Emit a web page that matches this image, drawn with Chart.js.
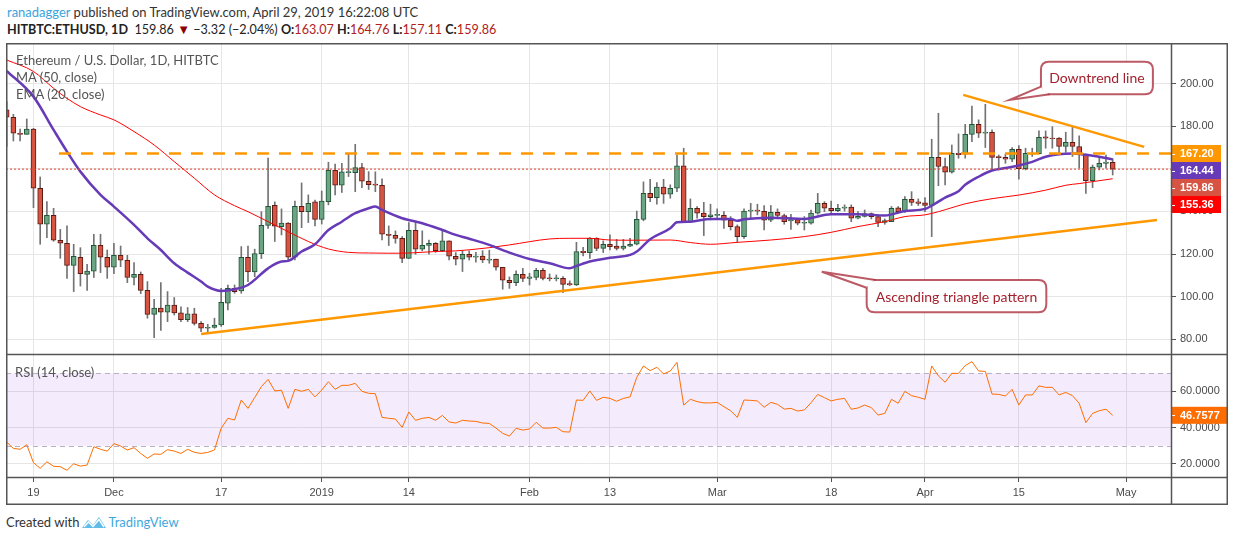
<!DOCTYPE html>
<html>
<head>
<meta charset="utf-8">
<title>Ethereum / U.S. Dollar, 1D</title>
<script src="https://cdn.jsdelivr.net/npm/chart.js@4.4.1/dist/chart.umd.min.js"></script>
<style>
  body { margin: 0; width: 1234px; height: 541px; background: #fff; position: relative; overflow: hidden; font-family: Lato, "Liberation Sans", sans-serif; }
  .txt { position: absolute; white-space: nowrap; line-height: 17px; z-index: 2; }
  #line1 { left: 7px; top: 4px; font-size: 13px; color: #333; }
  #line1 .user { color: #3aa3de; }
  #line2 { left: 7px; top: 21px; font-size: 12.6px; color: #222; }
  #line2 .red { color: #b2201c; }
  #line2 .tri { color: #8b0000; font-size: 13px; }
  #wrap { position: absolute; left: 6px; top: 43px; width: 1222px; height: 462px; z-index: 1; }
  .leg { left: 16px; font-size: 13px; color: #555; }
  #footer { left: 6px; top: 514px; font-size: 13px; color: #333; }
  #footer svg { vertical-align: -2px; margin: 0 1px 0 2px; }
  #footer .tv { color: #3fa7dd; }
</style>
</head>
<body>
<div id="line1" class="txt"><span class="user">ranadagger</span> published on TradingView.com, April 29, 2019 16:22:08 UTC</div>
<div id="line2" class="txt"><b>HITBTC:ETHUSD, 1D</b>&nbsp; 159.86 <span class="tri">&#9660;</span> &minus;3.32 (&minus;2.04%) <b>O:</b><span class="red">163.07</span> <b>H:</b><span class="red">164.76</span> <b>L:</b><span class="red">157.11</span> <b>C:</b><span class="red">159.86</span></div>
<div class="txt leg" style="top:52px">Ethereum / U.S. Dollar, 1D, HITBTC</div>
<div class="txt leg" style="top:69px">MA (50, close)</div>
<div class="txt leg" style="top:86px">EMA (20, close)</div>
<div class="txt leg" style="top:364px;left:15px;font-size:13px">RSI (14, close)</div>
<div id="wrap"><canvas id="chart" width="1222" height="462"></canvas></div>
<div id="footer" class="txt">Created with<svg width="26" height="14" viewBox="0 0 26 14"><path d="M1 13 L7 5 L12 10 L18 2 L25 13 Z" fill="#62bce8"/><path d="M3 12 L7.5 7 L12 11.5 L18 4.5 L23 12" fill="none" stroke="#fff" stroke-width="1.4"/></svg><span class="tv">TradingView</span></div>

<script>
// first candle of the series
const firstDay = "2018-11-15";

const opens = [
  187.7, 184.2, 176.7, 176.2, 178.7, 150.9, 134.0, 138.2, 126.5, 125.1,
  114.7, 118.5, 110.5, 112.0, 124.1, 118.5, 113.8, 119.4, 117.1, 109.0,
  110.5, 103.0, 91.7, 94.6, 92.7, 96.1, 92.4, 89.2, 92.0, 87.5,
  85.2, 85.6, 86.7, 96.9, 103.9, 102.7, 118.5, 111.6, 120.2, 133.5,
  142.9, 132.9, 134.5, 118.5, 142.4, 139.9, 144.5, 136.3, 144.6, 159.3,
  152.3, 158.2, 158.2, 160.6, 154.2, 152.9, 152.3, 129.3, 128.8, 127.4,
  118.0, 131.2, 122.3, 124.1, 125.1, 121.6, 126.2, 119.0, 117.6, 119.9,
  118.5, 119.1, 117.1, 117.6, 113.8, 107.7, 106.6, 110.5, 108.6, 109.0,
  112.4, 108.8, 108.5, 108.6, 106.1, 105.5, 121.3, 120.7, 127.4, 122.7,
  124.6, 123.8, 122.7, 123.7, 124.6, 136.3, 148.5, 146.5, 151.4, 148.1,
  150.9, 161.4, 135.2, 141.5, 139.2, 137.6, 138.1, 138.2, 135.9, 132.9,
  128.2, 140.1, 140.7, 140.1, 135.9, 139.6, 138.1, 135.6, 136.2, 134.5,
  134.5, 139.2, 143.8, 141.5, 140.4, 141.5, 142.1, 136.8, 137.7, 139.0,
  137.6, 134.9, 135.2, 141.7, 139.9, 145.7, 144.5, 144.0, 142.8, 165.4,
  161.1, 158.4, 167.3, 166.9, 176.2, 180.9, 176.7, 177.2, 165.8, 165.4,
  164.5, 169.2, 160.1, 166.9, 167.0, 175.0, 174.5, 174.4, 170.5, 172.5,
  170.5, 166.9, 154.5, 160.8, 162.6, 163.07
];
const highs = [
  191.6, 185.6, 178.7, 183.4, 179.0, 156.2, 144.6, 141.5, 131.6, 133.2,
  124.6, 123.0, 115.2, 129.3, 129.3, 121.9, 125.1, 123.8, 119.4, 116.0,
  111.6, 107.1, 98.8, 106.6, 102.4, 99.6, 95.2, 94.9, 94.6, 88.3,
  87.0, 89.9, 103.9, 105.5, 105.5, 123.5, 123.8, 122.3, 139.9, 165.0,
  144.5, 141.2, 134.8, 144.9, 153.4, 147.8, 145.3, 149.6, 163.1, 162.2,
  162.6, 167.0, 171.5, 162.6, 158.7, 158.6, 155.3, 133.2, 130.9, 128.2,
  134.8, 134.8, 130.9, 126.6, 125.4, 131.0, 126.2, 120.7, 121.5, 121.5,
  120.8, 121.6, 121.8, 117.6, 113.8, 109.3, 112.1, 113.3, 111.0, 113.3,
  113.3, 110.7, 110.2, 109.4, 107.4, 125.5, 123.2, 127.7, 127.7, 126.2,
  129.0, 126.9, 126.9, 127.4, 140.2, 153.9, 155.1, 153.6, 155.1, 152.5,
  166.5, 169.7, 145.9, 142.3, 144.3, 143.4, 141.2, 139.9, 137.6, 133.7,
  141.2, 143.8, 143.4, 142.8, 142.8, 141.2, 138.8, 138.7, 136.8, 137.6,
  140.7, 148.5, 144.6, 144.9, 143.4, 143.1, 143.1, 139.9, 140.7, 139.3,
  138.4, 136.5, 142.3, 142.3, 147.0, 149.3, 145.9, 146.5, 173.9, 186.1,
  165.0, 171.2, 176.4, 180.9, 189.5, 183.0, 190.3, 178.3, 166.5, 166.9,
  170.0, 170.9, 169.7, 169.7, 177.8, 177.8, 179.8, 174.7, 177.2, 179.8,
  175.5, 166.9, 161.8, 165.8, 166.5, 164.76
];
const lows = [
  170.5, 173.1, 173.1, 176.2, 141.8, 124.6, 127.7, 126.0, 118.0, 108.6,
  102.4, 105.0, 103.0, 109.0, 111.3, 108.6, 110.8, 114.1, 106.6, 105.5,
  101.4, 89.9, 80.8, 84.2, 88.3, 91.4, 88.3, 88.3, 86.7, 83.6,
  83.6, 85.2, 86.0, 93.8, 101.6, 101.6, 107.1, 109.4, 117.9, 132.1,
  125.9, 129.0, 116.8, 117.2, 132.4, 134.8, 133.2, 134.1, 143.1, 147.8,
  148.9, 156.4, 149.3, 151.2, 150.3, 149.3, 126.6, 124.0, 125.1, 116.0,
  118.0, 119.9, 121.5, 119.9, 120.8, 121.2, 117.2, 114.9, 111.8, 117.2,
  116.2, 116.0, 115.7, 112.4, 103.5, 103.9, 105.2, 107.1, 105.5, 107.9,
  107.9, 107.4, 107.4, 101.9, 105.2, 105.2, 119.1, 118.0, 121.6, 120.7,
  121.9, 121.9, 121.9, 123.5, 124.3, 135.6, 144.6, 143.4, 143.8, 146.2,
  149.3, 135.2, 135.2, 136.8, 128.7, 136.0, 136.8, 132.1, 131.3, 125.5,
  127.4, 136.8, 138.4, 131.3, 135.2, 136.8, 134.0, 131.6, 133.7, 131.3,
  134.0, 138.7, 139.9, 138.7, 139.9, 140.2, 135.2, 136.5, 137.4, 136.5,
  132.9, 134.0, 135.2, 139.2, 139.6, 142.8, 142.8, 139.9, 128.2, 152.1,
  152.5, 158.0, 165.0, 165.0, 172.8, 174.7, 170.0, 159.5, 159.5, 162.6,
  163.4, 155.1, 159.5, 165.8, 167.0, 169.7, 169.7, 167.3, 167.8, 165.8,
  160.3, 148.5, 151.2, 159.5, 160.3, 157.11
];
const closes = [
  184.2, 176.7, 176.2, 178.7, 150.9, 134.0, 138.2, 126.5, 125.1, 114.7,
  119.0, 110.8, 112.0, 124.1, 118.5, 113.8, 119.4, 117.1, 109.0, 110.5,
  103.0, 91.7, 94.6, 92.7, 96.1, 92.4, 89.2, 92.0, 87.5, 85.2,
  85.6, 86.7, 97.4, 103.9, 102.4, 118.5, 111.6, 120.2, 133.5, 142.4,
  133.1, 134.5, 118.5, 142.4, 139.9, 143.8, 136.3, 144.9, 159.3, 152.3,
  158.6, 158.7, 160.6, 154.2, 152.6, 152.3, 129.3, 128.8, 127.3, 118.0,
  131.2, 122.3, 124.1, 125.1, 121.6, 126.2, 119.0, 117.6, 119.9, 118.5,
  119.1, 117.2, 117.7, 113.8, 107.7, 106.6, 110.5, 108.6, 109.3, 112.4,
  108.6, 108.5, 108.8, 105.8, 105.5, 121.2, 120.7, 127.4, 122.7, 124.6,
  123.5, 122.7, 123.8, 124.6, 136.3, 148.5, 146.5, 151.4, 148.1, 150.9,
  161.4, 135.2, 141.5, 139.2, 137.6, 138.4, 138.7, 135.9, 132.9, 128.2,
  140.2, 140.7, 140.1, 135.9, 139.6, 138.1, 135.2, 136.2, 134.5, 134.9,
  139.2, 143.8, 141.5, 140.4, 141.5, 142.1, 136.8, 137.7, 139.0, 137.6,
  134.9, 135.7, 141.5, 139.9, 145.7, 144.2, 143.8, 142.8, 165.4, 161.1,
  158.4, 167.3, 166.7, 176.2, 180.9, 176.7, 177.3, 165.4, 165.3, 164.5,
  169.2, 160.1, 167.3, 167.3, 174.8, 174.4, 174.2, 170.5, 172.5, 170.5,
  166.9, 154.5, 160.8, 162.6, 163.2, 159.86
];
const rsi = [
  32.0, 28.5, 28.0, 30.5, 20.6, 17.5, 21.1, 18.6, 18.4, 16.4,
  20.0, 18.7, 19.3, 29.4, 28.0, 27.0, 31.1, 29.8, 27.6, 28.9,
  25.7, 23.0, 25.4, 25.2, 27.8, 27.0, 25.7, 28.0, 26.3, 25.7,
  26.3, 27.6, 39.6, 45.1, 44.2, 55.2, 50.6, 56.5, 62.6, 66.6,
  60.2, 60.6, 50.6, 61.1, 60.0, 61.1, 56.9, 60.7, 65.3, 61.1,
  63.3, 63.3, 64.4, 60.0, 58.9, 58.7, 45.6, 45.1, 44.7, 40.1,
  48.6, 44.0, 45.1, 45.6, 44.0, 46.7, 43.1, 42.5, 44.0, 43.6,
  43.4, 42.5, 42.3, 39.7, 36.8, 35.3, 39.6, 38.6, 39.2, 42.9,
  39.7, 39.7, 40.1, 37.7, 37.5, 55.2, 55.0, 60.2, 55.0, 56.7,
  56.1, 54.5, 56.1, 56.9, 67.7, 74.0, 71.4, 73.3, 69.6, 71.2,
  76.0, 52.4, 55.6, 54.3, 53.6, 53.6, 53.9, 51.5, 49.3, 45.6,
  55.2, 55.0, 54.7, 51.2, 53.9, 52.8, 50.2, 50.6, 49.1, 49.7,
  53.7, 58.3, 56.5, 54.7, 55.6, 56.1, 50.1, 50.8, 52.4, 51.0,
  46.9, 47.8, 55.6, 53.4, 60.0, 57.6, 56.7, 55.6, 74.0, 68.5,
  65.0, 69.9, 69.9, 74.2, 76.4, 71.2, 71.0, 58.5, 58.3, 57.4,
  61.1, 52.4, 58.0, 58.0, 63.0, 62.2, 62.2, 58.0, 59.4, 57.6,
  53.4, 42.7, 47.8, 49.3, 50.1, 46.7577
];

// EMA(20) and MA(50) (day number counted from firstDay)
const emaDays = [0, 4, 7, 9, 11, 14, 16, 19, 21, 23, 25, 27, 29, 30, 32, 34, 36, 39, 41, 42,
  44, 46, 48, 50, 52, 54, 55, 56, 59, 62, 65, 67, 69, 72, 75, 78, 81, 84, 85, 87,
  90, 93, 94, 96, 99, 100, 102, 105, 108, 109, 110, 114, 119, 123, 127, 131, 134, 137, 139, 140,
  142, 143, 145, 147, 149, 151, 153, 155, 157, 159, 161, 163, 165];
const emaVals = [206.0, 193.9, 178.3, 168.1, 158.7, 147.8, 142.3, 133.7, 127.4, 121.9,
  115.7, 111.3, 107.1, 104.7, 102.7, 103.5, 105.5, 113.3, 116.5, 116.8,
  121.2, 124.6, 131.3, 135.2, 139.2, 141.5, 142.3, 140.7, 136.8, 134.5,
  131.3, 129.0, 127.2, 124.3, 120.7, 117.7, 115.7, 113.3, 114.4, 116.5,
  118.3, 119.6, 121.2, 127.0, 132.1, 134.9, 135.2, 136.5, 136.5, 135.6,
  136.3, 137.1, 136.5, 138.7, 138.7, 138.1, 140.2, 141.2, 144.6, 146.5,
  149.5, 152.5, 156.3, 159.2, 160.4, 161.6, 163.3, 165.7, 166.9, 167.2,
  166.6, 165.7, 164.44];
const maDays = [0, 4, 7, 9, 11, 14, 16, 19, 22, 25, 28, 31, 34, 36, 39, 42, 45, 48, 51, 54,
  57, 60, 64, 67, 69, 72, 75, 81, 84, 87, 90, 93, 99, 102, 105, 109, 114, 119, 123, 127,
  131, 134, 137, 139, 140, 143, 147, 151, 155, 158, 160, 162, 165];
const maVals = [211.1, 205.7, 197.8, 193.1, 189.2, 185.3, 183.0, 177.5, 171.2, 163.4,
  155.6, 147.8, 142.7, 139.9, 135.2, 130.5, 125.9, 122.4, 120.8, 120.5,
  120.4, 120.5, 121.2, 121.5, 122.0, 123.0, 124.3, 127.1, 127.4, 127.4,
  126.6, 126.5, 126.6, 125.4, 124.6, 125.5, 126.6, 128.2, 130.2, 132.9,
  135.2, 137.6, 138.4, 139.9, 140.8, 143.6, 146.0, 147.7, 150.0, 152.3,
  153.1, 154.0, 155.36];

const tickDates = ["2018-11-19", "2018-12-01", "2018-12-17", "2019-01-01", "2019-01-14", "2019-02-01",
  "2019-02-13", "2019-03-01", "2019-03-18", "2019-04-01", "2019-04-15", "2019-05-01"];
const tickLabels = ["19", "Dec", "17", "2019", "14", "Feb", "13", "Mar", "18", "Apr", "15", "May"];
const priceTicks = [80, 100, 120, 140, 160, 180, 200];
const rsiTicks = [20, 40, 60];
const rsiBands = [30, 70];

// drawn lines: resistance level, rising support, falling resistance
const levelPrice = 167.2;
const levelFrom = 7.8;
const supportLine = [[29.0, 82.5], [171.6, 136.0]];
const downLine = [[142.7, 194.7], [169.7, 170.3]];

const dayMs = 86400000;
const dayOf = (d) => Math.round((Date.parse(d) - Date.parse(firstDay)) / dayMs);
const tickDays = tickDates.map(dayOf);

const xMin = -0.1;
const xMax = 173.7;

const upFill = "#6ba583", downFill = "#d75442";
const upEdge = "#225437", downEdge = "#5b1a13";

const bodies = opens.map((o, i) => ({ x: i, y: [o, closes[i]] }));
const wicks = lows.map((l, i) => ({ x: i, y: [l, highs[i]] }));
const isUp = opens.map((o, i) => closes[i] >= o);

const callouts = [
  { text: "Downtrend line", box: [154.3, 171.0, 210.3, 195.0], tip: [149.6, 192.3], base: [[154.3, 198.6], [155.6, 195.0]] },
  { text: "Ascending triangle pattern", box: [128.3, 155.1, 107.8, 92.7], tip: [121.6, 111.7], base: [[128.3, 104.2], [129.6, 107.8]] }
];

function roundRect(ctx, x, y, w, h, r) {
  ctx.beginPath();
  ctx.moveTo(x + r, y);
  ctx.lineTo(x + w - r, y);
  ctx.quadraticCurveTo(x + w, y, x + w, y + r);
  ctx.lineTo(x + w, y + h - r);
  ctx.quadraticCurveTo(x + w, y + h, x + w - r, y + h);
  ctx.lineTo(x + r, y + h);
  ctx.quadraticCurveTo(x, y + h, x, y + h - r);
  ctx.lineTo(x, y + r);
  ctx.quadraticCurveTo(x, y, x + r, y);
  ctx.closePath();
}

// purple band between 30 and 70 on the RSI pane
const rsiBand = {
  id: "rsiBand",
  beforeDatasetsDraw(chart) {
    const { ctx, chartArea } = chart;
    const r = chart.scales.rsi;
    const yTop = r.getPixelForValue(rsiBands[1]);
    const yBot = r.getPixelForValue(rsiBands[0]);
    ctx.save();
    ctx.fillStyle = "rgba(150, 60, 230, 0.1)";
    ctx.fillRect(chartArea.left, yTop, chartArea.right - chartArea.left, yBot - yTop);
    ctx.strokeStyle = "#b9afc2";
    ctx.lineWidth = 1;
    ctx.setLineDash([5, 4]);
    [yTop, yBot].forEach((y) => {
      ctx.beginPath();
      ctx.moveTo(chartArea.left, Math.round(y) + 0.5);
      ctx.lineTo(chartArea.right, Math.round(y) + 0.5);
      ctx.stroke();
    });
    ctx.restore();
  }
};

const notes = {
  id: "notes",
  afterDatasetsDraw(chart) {
    const { ctx } = chart;
    const xs = chart.scales.x, ys = chart.scales.y;
    ctx.save();
    callouts.forEach((c) => {
      const x1 = xs.getPixelForValue(c.box[0]), x2 = xs.getPixelForValue(c.box[1]);
      const y1 = ys.getPixelForValue(c.box[2]), y2 = ys.getPixelForValue(c.box[3]);
      const tx = xs.getPixelForValue(c.tip[0]), ty = ys.getPixelForValue(c.tip[1]);
      const ax = xs.getPixelForValue(c.base[0][0]), ay = ys.getPixelForValue(c.base[0][1]);
      const bx = xs.getPixelForValue(c.base[1][0]), by = ys.getPixelForValue(c.base[1][1]);
      const cx = tx < x1 ? x1 + 3 : x2 - 3;
      const cy = ty > y2 ? y2 - 3 : y1 + 3;
      ctx.lineWidth = 2;
      ctx.strokeStyle = "rgba(165, 35, 50, 0.75)";
      ctx.fillStyle = "#fff";
      roundRect(ctx, x1, y1, x2 - x1, y2 - y1, 8);
      ctx.fill();
      ctx.stroke();
      ctx.beginPath();
      ctx.moveTo(ax, ay);
      ctx.lineTo(tx, ty);
      ctx.lineTo(bx, by);
      ctx.lineTo(cx, cy);
      ctx.closePath();
      ctx.fill();
      ctx.beginPath();
      ctx.moveTo(ax, ay);
      ctx.lineTo(tx, ty);
      ctx.lineTo(bx, by);
      ctx.stroke();
      ctx.fillStyle = "#a3222e";
      ctx.font = "14px Lato";
      ctx.textAlign = "center";
      ctx.textBaseline = "middle";
      ctx.fillText(c.text, (x1 + x2) / 2, (y1 + y2) / 2 + 1);
    });
    ctx.restore();
  }
};

function drawTag(ctx, x, yTop, w, h, bg, text) {
  ctx.fillStyle = bg;
  ctx.fillRect(x, yTop, w, h);
  ctx.strokeStyle = "#fff";
  ctx.lineWidth = 1;
  ctx.beginPath();
  ctx.moveTo(x, Math.round(yTop + h / 2) + 0.5);
  ctx.lineTo(x + 4, Math.round(yTop + h / 2) + 0.5);
  ctx.stroke();
  ctx.fillStyle = "#fff";
  ctx.font = "bold 11px 'Liberation Sans', Arial, sans-serif";
  ctx.textAlign = "left";
  ctx.textBaseline = "middle";
  ctx.fillText(text, x + 9, yTop + h / 2 + 0.5);
}

const frame = {
  id: "frame",
  afterDraw(chart) {
    const { ctx, chartArea } = chart;
    const W = chart.width, H = chart.height;
    const rsiTop = chart.scales.rsi.top;
    ctx.save();
    // value tags on the price scale
    const tags = [
      { v: levelPrice, c: "#ff9800" },
      { v: emaVals[emaVals.length - 1], c: "#673ab7" },
      { v: closes[closes.length - 1], c: downFill },
      { v: maVals[maVals.length - 1], c: "#ff0000" }
    ].sort((a, b) => b.v - a.v);
    let prev = -Infinity;
    tags.forEach((t) => {
      const yc = chart.scales.y.getPixelForValue(t.v);
      const top = Math.max(yc - 8.5, prev);
      drawTag(ctx, chartArea.right, top, 50, 17, t.c, t.v.toFixed(2));
      prev = top + 17;
    });
    const lastRsi = rsi[rsi.length - 1];
    const ry = chart.scales.rsi.getPixelForValue(lastRsi);
    drawTag(ctx, chartArea.right, ry - 8.5, 56, 17, "#ff6d00", lastRsi.toFixed(4));

    ctx.strokeStyle = "#555";
    ctx.lineWidth = 1.5;
    ctx.strokeRect(0.75, 0.75, W - 1.5, H - 1.5);
    ctx.beginPath();
    ctx.moveTo(chartArea.right + 0.5, 0);
    ctx.lineTo(chartArea.right + 0.5, H);
    ctx.moveTo(0, chartArea.bottom + 0.5);
    ctx.lineTo(W, chartArea.bottom + 0.5);
    ctx.moveTo(0, Math.round(rsiTop) + 0.5);
    ctx.lineTo(W, Math.round(rsiTop) + 0.5);
    ctx.stroke();
    ctx.restore();
  }
};

Chart.defaults.font.family = "'Liberation Sans', Arial, sans-serif";
Chart.defaults.font.size = 11;
Chart.defaults.color = "#4a4a4a";

const noPad = (s) => { s.paddingTop = 0; s.paddingBottom = 0; s.paddingLeft = 0; s.paddingRight = 0; };

const ctx = document.getElementById("chart").getContext("2d");
const chart = new Chart(ctx, {
  type: "bar",
  data: {
    datasets: [
      {
        type: "line", label: "level", data: [{ x: levelFrom, y: levelPrice }, { x: xMax, y: levelPrice }],
        borderColor: "#ff9800", borderWidth: 2.5, borderDash: [12, 10], pointRadius: 0, order: 0
      },
      {
        type: "line", label: "support", data: supportLine.map((p) => ({ x: p[0], y: p[1] })),
        borderColor: "#ff9800", borderWidth: 2.5, pointRadius: 0, order: 0
      },
      {
        type: "line", label: "downtrend", data: downLine.map((p) => ({ x: p[0], y: p[1] })),
        borderColor: "#ff9800", borderWidth: 2.5, pointRadius: 0, order: 0
      },
      {
        type: "line", label: "last", data: [{ x: xMin, y: closes[closes.length - 1] }, { x: xMax, y: closes[closes.length - 1] }],
        borderColor: "#e0452f", borderWidth: 1, borderDash: [2, 2], pointRadius: 0, order: 1
      },
      {
        type: "line", label: "EMA (20, close)", data: emaDays.map((d, i) => ({ x: d, y: emaVals[i] })),
        borderColor: "#673ab7", borderWidth: 2.5, pointRadius: 0, cubicInterpolationMode: "monotone", order: 2
      },
      {
        type: "line", label: "MA (50, close)", data: maDays.map((d, i) => ({ x: d, y: maVals[i] })),
        borderColor: "#ff0000", borderWidth: 1, pointRadius: 0, cubicInterpolationMode: "monotone", order: 2
      },
      {
        type: "line", label: "RSI (14, close)", yAxisID: "rsi", data: rsi.map((v, i) => ({ x: i, y: v })),
        borderColor: "#ff6d00", borderWidth: 1, pointRadius: 0, order: 2
      },
      {
        label: "bodies", data: bodies, grouped: false, barThickness: 5,
        backgroundColor: isUp.map((u) => (u ? upFill : downFill)),
        borderColor: isUp.map((u) => (u ? upEdge : downEdge)),
        borderWidth: 1, borderSkipped: false, order: 5
      },
      {
        label: "wicks", data: wicks, grouped: false, barThickness: 1,
        backgroundColor: "#737375", borderWidth: 0, order: 6
      }
    ]
  },
  options: {
    responsive: false,
    animation: false,
    devicePixelRatio: 1,
    layout: { padding: { top: 1, bottom: 1, left: 0, right: 0 } },
    plugins: { legend: { display: false }, tooltip: { enabled: false } },
    scales: {
      x: {
        type: "linear", min: xMin, max: xMax, offset: false,
        afterBuildTicks: (s) => { s.ticks = tickDays.map((v) => ({ value: v })); },
        ticks: { callback: (v, i) => tickLabels[i], autoSkip: false, maxRotation: 0, padding: 4 },
        grid: { color: "#e6e6e6", tickColor: "#555", tickLength: 5, offset: false },
        border: { display: false },
        afterFit: (s) => { s.height = 27; noPad(s); }
      },
      y: {
        type: "linear", position: "right", stack: "panes", stackWeight: 310,
        min: 73.1, max: 218.6, beginAtZero: false,
        afterBuildTicks: (s) => { s.ticks = priceTicks.map((v) => ({ value: v })); },
        ticks: { callback: (v) => v.toFixed(2), padding: 4 },
        grid: { color: "#e6e6e6", tickColor: "#555", tickLength: 5 },
        border: { display: false },
        afterFit: (s) => { s.width = 57; noPad(s); }
      },
      rsi: {
        type: "linear", position: "right", stack: "panes", stackWeight: 123,
        min: 12.7, max: 80.6, beginAtZero: false,
        afterBuildTicks: (s) => { s.ticks = rsiTicks.map((v) => ({ value: v })); },
        ticks: { callback: (v) => v.toFixed(4), padding: 4 },
        grid: { color: "#e6e6e6", tickColor: "#555", tickLength: 5 },
        border: { display: false },
        afterFit: (s) => { s.width = 57; noPad(s); }
      }
    }
  },
  plugins: [rsiBand, notes, frame]
});
</script>
</body>
</html>
